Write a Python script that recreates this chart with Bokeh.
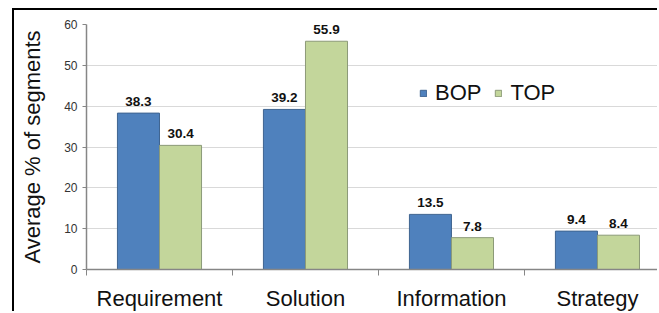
from bokeh.plotting import figure
from bokeh.models import Range1d, FixedTicker, Legend, LegendItem, ColumnDataSource
from bokeh.core.properties import value
from bokeh.embed import file_html
from bokeh.resources import INLINE

categories = ["Requirement", "Solution", "Information", "Strategy"]
bop = [38.3, 39.2, 13.5, 9.4]
top = [30.4, 55.9, 7.8, 8.4]
y_ticks = [0, 10, 20, 30, 40, 50, 60]

FONT = "Liberation Sans"
BLUE = "#4F81BD"
GREEN = "#C3D69B"
BAR_W = 0.288

centers = [i + 0.5 for i in range(len(categories))]
src_b = ColumnDataSource(dict(x=[c - BAR_W / 2 for c in centers], y=bop,
                              t=["%.1f" % v for v in bop]))
src_t = ColumnDataSource(dict(x=[c + BAR_W / 2 for c in centers], y=top,
                              t=["%.1f" % v for v in top]))

p = figure(width=645, height=303, output_backend="svg", toolbar_location=None,
           x_range=Range1d(0, 3.925), y_range=Range1d(0, 60),
           min_border_left=72, min_border_right=0, min_border_top=14, min_border_bottom=44)
p.styles = {"margin-left": "12px", "margin-top": "8px",
            "border-top": "2px solid black", "border-left": "2px solid black"}
p.outline_line_color = None
p.background_fill_color = "white"
p.border_fill_color = "white"

rb = p.vbar(x="x", top="y", width=BAR_W, bottom=0, source=src_b,
            fill_color=BLUE, line_color="#3f6490", line_width=1)
rt = p.vbar(x="x", top="y", width=BAR_W, bottom=0, source=src_t,
            fill_color=GREEN, line_color="#8c9a78", line_width=1)

for s in (src_b, src_t):
    p.text(x="x", y="y", text="t", source=s, text_align="center", text_baseline="bottom",
           y_offset=-7, text_font=value(FONT), text_font_size="13.5px",
           text_font_style="bold", text_color="#111111")

# x axis
xa = p.xaxis[0]
xa.ticker = FixedTicker(ticks=centers, minor_ticks=list(range(len(categories))))
xa.major_label_overrides = {c: n for c, n in zip(centers, categories)}
xa.major_tick_line_color = None
xa.major_tick_out = 0
xa.major_tick_in = 0
xa.minor_tick_out = 6
xa.minor_tick_in = 0
xa.minor_tick_line_color = "#868686"
xa.axis_line_color = "#868686"
xa.axis_line_width = 1.5
xa.major_label_text_font = FONT
xa.major_label_text_font_size = "22px"
xa.major_label_text_color = "#111111"
xa.major_label_standoff = 10

# y axis
ya = p.yaxis[0]
ya.ticker = FixedTicker(ticks=y_ticks, minor_ticks=[])
ya.major_tick_out = 4
ya.major_tick_in = 0
ya.major_tick_line_color = "#868686"
ya.axis_line_color = "#868686"
ya.axis_line_width = 1.5
ya.major_label_text_font = FONT
ya.major_label_text_font_size = "12px"
ya.major_label_text_color = "#333333"
ya.major_label_standoff = 5
ya.axis_label = "Average % of segments"
ya.axis_label_text_font = FONT
ya.axis_label_text_font_size = "22px"
ya.axis_label_text_font_style = "normal"
ya.axis_label_text_color = "#111111"
ya.axis_label_standoff = 16

p.xgrid.grid_line_color = None
p.ygrid.grid_line_color = "#d9d9d9"
p.ygrid.ticker = FixedTicker(ticks=y_ticks)

legend = Legend(items=[LegendItem(label="BOP", renderers=[rb]),
                       LegendItem(label="TOP", renderers=[rt])],
                orientation="horizontal", location=(333, 163),
                label_text_font=FONT, label_text_font_size="22px", label_text_color="#111111",
                glyph_width=8, glyph_height=8, label_standoff=8, spacing=13,
                padding=0, margin=0, border_line_color=None, background_fill_alpha=0,
                label_height=22)
p.add_layout(legend, "center")

open("out.html", "w").write(file_html(p, INLINE))
